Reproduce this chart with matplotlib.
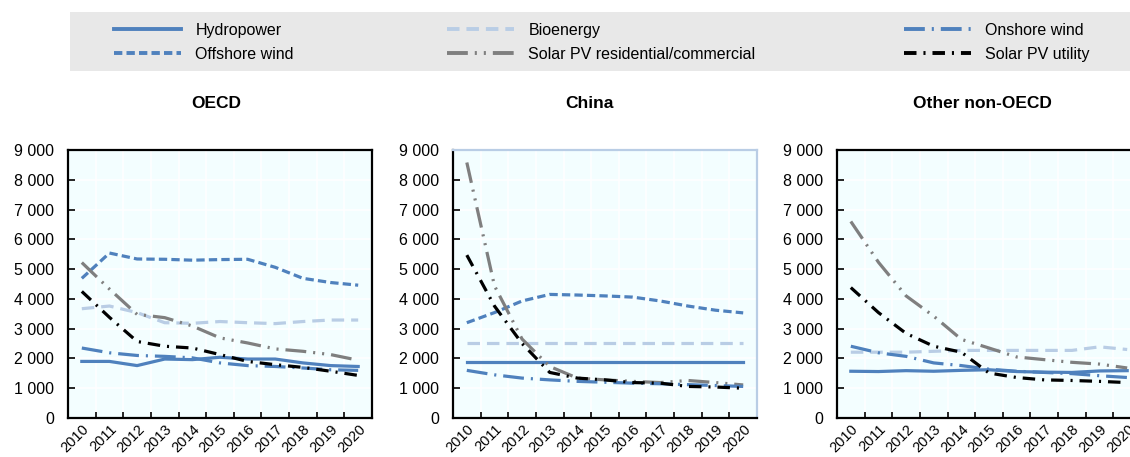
import matplotlib
matplotlib.use("Agg")
import matplotlib.pyplot as plt
from matplotlib.patches import Rectangle
from matplotlib.lines import Line2D
from matplotlib.ticker import FuncFormatter, FixedLocator

plt.rcParams['font.family'] = ['Liberation Sans Narrow', 'Liberation Sans', 'DejaVu Sans']
plt.rcParams['lines.scale_dashes'] = False

years = [str(y) for y in range(2010, 2021)]
panels = ["OECD", "China", "Other non-OECD"]

# USD/kW
hydro = {
    "OECD": [1900, 1900, 1760, 1980, 1960, 2040, 1980, 1980, 1850, 1760, 1730],
    "China": [1870, 1870, 1870, 1870, 1870, 1870, 1870, 1870, 1870, 1870, 1870],
    "Other non-OECD": [1570, 1560, 1590, 1570, 1600, 1620, 1560, 1540, 1530, 1580, 1590],
}
offshore = {
    "OECD": [4690, 5540, 5340, 5330, 5300, 5320, 5330, 5060, 4690, 4550, 4460],
    "China": [3200, 3540, 3930, 4150, 4130, 4100, 4060, 3930, 3760, 3620, 3530],
    "Other non-OECD": [None] * 11,
}
bio = {
    "OECD": [3670, 3760, 3540, 3200, 3180, 3240, 3200, 3170, 3240, 3290, 3290],
    "China": [2530, 2530, 2530, 2530, 2530, 2530, 2530, 2530, 2530, 2530, 2530],
    "Other non-OECD": [2210, 2210, 2210, 2240, 2270, 2270, 2270, 2270, 2270, 2390, 2300],
}
solar_res = {
    "OECD": [5220, 4330, 3480, 3370, 3090, 2690, 2520, 2320, 2240, 2130, 1940],
    "China": [8580, 4440, 2650, 1730, 1340, 1280, 1230, 1190, 1260, 1190, 1110],
    "Other non-OECD": [6600, 5230, 4100, 3420, 2640, 2350, 2050, 1960, 1870, 1810, 1680],
}
onshore = {
    "OECD": [2350, 2190, 2100, 2070, 2020, 1850, 1760, 1730, 1680, 1620, 1600],
    "China": [1600, 1450, 1340, 1280, 1230, 1200, 1170, 1150, 1120, 1090, 1060],
    "Other non-OECD": [2410, 2190, 2070, 1850, 1760, 1640, 1570, 1530, 1490, 1420, 1360],
}
solar_util = {
    "OECD": [4250, 3380, 2570, 2410, 2350, 2130, 1900, 1790, 1700, 1570, 1430],
    "China": [5470, 3760, 2500, 1530, 1340, 1280, 1190, 1170, 1060, 1040, 1000],
    "Other non-OECD": [4380, 3540, 2840, 2410, 2210, 1510, 1360, 1280, 1260, 1230, 1190],
}

series = [
    ("Hydropower", hydro, "#4F81BD", "-"),
    ("Offshore wind", offshore, "#4F81BD", (0, (6, 3))),
    ("Bioenergy", bio, "#B9CDE5", (0, (9, 5))),
    ("Solar PV residential/commercial", solar_res, "#7F7F7F", (0, (15, 5, 1.5, 5, 1.5, 5))),
    ("Onshore wind", onshore, "#4F81BD", (0, (15, 5, 1.5, 5))),
    ("Solar PV utility", solar_util, "#000000", (0, (9, 5, 1.5, 5))),
]

W, H = 1130, 457
fig = plt.figure(figsize=(W / 100, H / 100), dpi=100)

axes_left = [68, 453, 837]
title_x = [216, 589, 982]
ax_w, ax_top, ax_bot = 304, 150, 418

fmt = FuncFormatter(lambda v, p: f"{int(v):,}".replace(",", " "))
x = list(range(len(years)))

for i, name in enumerate(panels):
    ax = fig.add_axes([axes_left[i] / W, (H - ax_bot) / H, ax_w / W, (ax_bot - ax_top) / H])
    ax.set_facecolor("#F3FEFF")
    for label, d, color, ls in series:
        vals = [v if v is not None else float("nan") for v in d[name]]
        ax.plot(x, vals, color=color, linestyle=ls, linewidth=2.3, zorder=3)
    ax.set_xlim(-0.5, 10.5)
    ax.set_ylim(0, 9000)
    ax.set_yticks(range(0, 9001, 1000))
    ax.yaxis.set_major_formatter(fmt)
    ax.set_xticks(x)
    ax.set_xticklabels(years, rotation=45, ha="right", rotation_mode="anchor")
    ax.xaxis.set_minor_locator(FixedLocator([k + 0.5 for k in range(10)]))
    ax.tick_params(axis="x", which="major", length=0, labelsize=10.5, pad=3)
    ax.tick_params(axis="x", which="minor", direction="in", length=4, width=1.2)
    ax.tick_params(axis="y", direction="in", length=5, width=1.2, labelsize=11.5, pad=10)
    ax.grid(True, axis="y", color="white", linewidth=1.2, zorder=1)
    ax.grid(True, axis="x", which="minor", color="white", linewidth=1.2, zorder=1)
    ax.set_axisbelow(True)
    for s in ax.spines.values():
        s.set_linewidth(1.6)
        s.set_color("black")
    if name == "China":
        ax.spines["top"].set_color("#B9CDE5")
        ax.spines["right"].set_color("#B9CDE5")
    fig.text(title_x[i] / W, (H - 103) / H, name, ha="center", va="center",
             fontsize=12.5, fontweight="bold")

# legend band
fig.patches.append(Rectangle((70 / W, (H - 71) / H), (W - 70) / W, 59 / H,
                             transform=fig.transFigure, facecolor="#E8E8E8",
                             edgecolor="none", zorder=0))
handles = [Line2D([], [], color=c, linestyle=ls, linewidth=2.8) for _, _, c, ls in series]
labels = [s[0] for s in series]
leg_x = [114, 447, 904]
for j in range(3):
    lg = fig.legend(handles[2 * j:2 * j + 2], labels[2 * j:2 * j + 2],
                    loc="upper left", bbox_to_anchor=(leg_x[j] / W, (H - 23) / H),
                    frameon=False, fontsize=11.5, handlelength=4.2, handletextpad=0.9,
                    labelspacing=0.55, borderpad=0, borderaxespad=0)

fig.savefig("out.png", dpi=100)
